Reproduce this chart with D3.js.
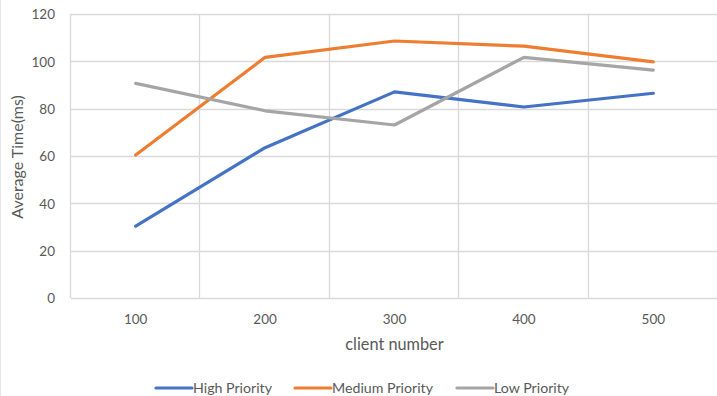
<!DOCTYPE html>
<html>
<head>
<meta charset="utf-8">
<script src="https://cdn.jsdelivr.net/npm/d3@7"></script>
<style>
  html, body { margin: 0; padding: 0; background: #fff; }
  svg { display: block; }
  text { font-family: Lato, "Open Sans", sans-serif; fill: #595959; }
</style>
</head>
<body>
<svg id="chart" width="717" height="396"></svg>
<script>
const categories = ["100", "200", "300", "400", "500"];
const highPriority = [30.4, 63.5, 87.1, 80.7, 86.5];
const mediumPriority = [60.4, 101.7, 108.6, 106.4, 99.8];
const lowPriority = [90.7, 79.1, 73.1, 101.7, 96.3];
const yTicks = [0, 20, 40, 60, 80, 100, 120];
const seriesNames = ["High Priority", "Medium Priority", "Low Priority"];
const seriesColors = ["#4472C4", "#ED7D31", "#A5A5A5"];
const seriesValues = [highPriority, mediumPriority, lowPriority];

(function () {
const svg = d3.select("#chart");
const pLeft = 71, pRight = 718, pTop = 14, pBottom = 298;

const x = d3.scaleBand().domain(categories).range([pLeft, pRight]).paddingInner(0).paddingOuter(0);
const y = d3.scaleLinear().domain([0, 120]).range([pBottom, pTop]);
const cx = c => x(c) + x.bandwidth() / 2;

// chart area left border
svg.append("line").attr("x1", 0.5).attr("x2", 0.5).attr("y1", 0).attr("y2", 396)
  .attr("stroke", "#e6e6e6").attr("stroke-width", 1);

const grid = svg.append("g");
grid.selectAll("line.h").data(yTicks).join("line")
  .attr("x1", pLeft).attr("x2", 717)
  .attr("y1", d => Math.round(y(d)) + 0.5).attr("y2", d => Math.round(y(d)) + 0.5)
  .attr("stroke", "#d9d9d9").attr("stroke-width", 1.3);
const bounds = categories.map(c => x(c)).concat([pRight]);
grid.selectAll("line.v").data(bounds).join("line")
  .attr("x1", d => Math.round(d) - 0.5).attr("x2", d => Math.round(d) - 0.5)
  .attr("y1", pTop).attr("y2", pBottom)
  .attr("stroke", "#d9d9d9").attr("stroke-width", 1.3);

const yAxis = d3.axisLeft(y).tickValues(yTicks).tickSize(0).tickPadding(0);
const gy = svg.append("g").attr("transform", "translate(55,0)").call(yAxis);
gy.select(".domain").remove();
gy.selectAll("text").attr("font-size", 13.5).attr("fill", "#595959")
  .attr("font-family", "Lato, sans-serif").attr("dy", "0.35em");

const xAxis = d3.axisBottom(x).tickSize(0).tickPadding(0);
const gx = svg.append("g").attr("transform", "translate(0,313)").call(xAxis);
gx.select(".domain").remove();
gx.selectAll("text").attr("font-size", 13.5).attr("fill", "#595959")
  .attr("font-family", "Lato, sans-serif").attr("dy", "0.35em").attr("y", 6);

svg.append("text").attr("x", cx("300")).attr("y", 344).attr("dy", "0.35em")
  .attr("text-anchor", "middle").attr("font-size", 16.3).text("client number");
svg.append("text").attr("transform", "translate(17,157) rotate(-90)").attr("dy", "0.35em")
  .attr("text-anchor", "middle").attr("font-size", 16).text("Average Time(ms)");

const line = d3.line().x((d, i) => cx(categories[i])).y(d => y(d));
svg.append("g").selectAll("path").data(seriesValues).join("path")
  .attr("d", d => line(d))
  .attr("fill", "none")
  .attr("stroke", (d, i) => seriesColors[i])
  .attr("stroke-width", 3.2)
  .attr("stroke-linecap", "round")
  .attr("stroke-linejoin", "round");

const legendX = [156, 295, 457];
const lg = svg.append("g").selectAll("g").data(seriesNames).join("g")
  .attr("transform", (d, i) => `translate(${legendX[i]},388)`);
lg.append("line").attr("x1", 0).attr("x2", 36).attr("y1", 0).attr("y2", 0)
  .attr("stroke", (d, i) => seriesColors[i]).attr("stroke-width", 3.2).attr("stroke-linecap", "round");
lg.append("text").attr("x", 37).attr("dy", "0.35em").attr("font-size", 14.2).text(d => d);
})();
</script>
</body>
</html>
